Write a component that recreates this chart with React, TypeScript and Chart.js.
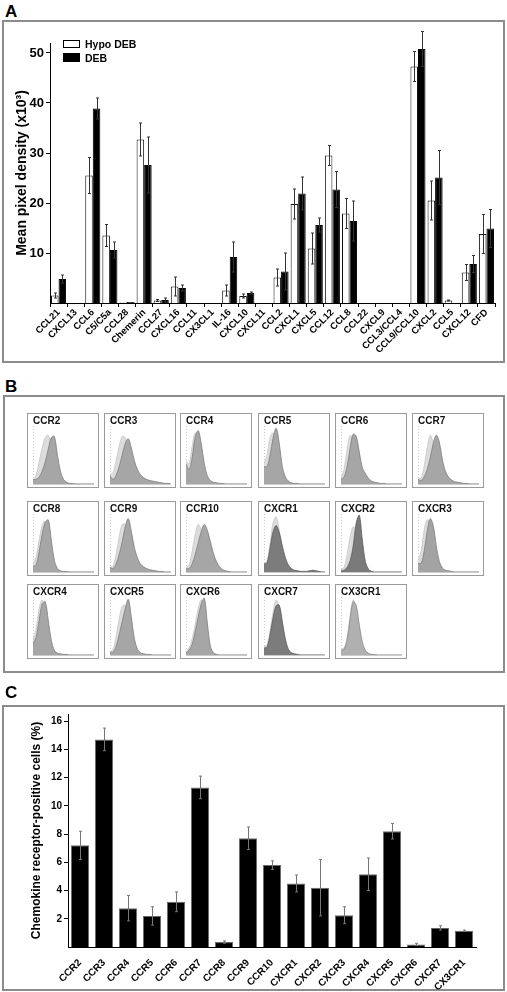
import React, { useEffect, useRef } from 'react';
import { Chart, registerables } from 'chart.js';

Chart.register(...registerables);

const FONT = '"Liberation Sans", Arial, Helvetica, sans-serif';
Chart.defaults.font.family = FONT;
Chart.defaults.color = '#000';

// ---------- Panel A data ----------
const chemokines = ['CCL21', 'CXCL13', 'CCL6', 'C5/C5a', 'CCL28', 'Chemerin', 'CCL27', 'CXCL16', 'CCL11', 'CX3CL1', 'IL-16', 'CXCL10', 'CXCL11', 'CCL2', 'CXCL1', 'CXCL5', 'CCL12', 'CCL8', 'CCL22', 'CXCL9', 'CCL3/CCL4', 'CCL9/CCL10', 'CXCL2', 'CCL5', 'CXCL12', 'CFD'];
const hypoDEB = [1.5, 0, 25.5, 13.5, 0.1, 32.7, 0.5, 3.3, 0, 0, 2.5, 1.4, 0, 5.1, 19.8, 10.9, 29.5, 17.9, 0, 0, 0, 47.3, 20.5, 0.5, 6.1, 13.8];
const hypoDEBErr = [0.5, 0, 3.6, 2.2, 0, 3.3, 0.2, 1.9, 0, 0, 1.1, 0.4, 0, 1.7, 3.0, 3.1, 2.0, 3.0, 0, 0, 0, 3.0, 3.9, 0.1, 1.6, 3.9];
const debValues = [4.8, 0, 38.9, 10.6, 0.2, 27.6, 0.6, 3.0, 0, 0, 9.2, 2.0, 0, 6.3, 21.9, 15.6, 22.7, 16.4, 0, 0, 0, 50.8, 25.1, 0, 7.8, 14.9];
const debErr = [0.8, 0, 2.1, 1.6, 0, 5.6, 0.4, 0.6, 0, 0, 3.0, 0.2, 0, 3.7, 3.3, 1.4, 3.6, 4.0, 0, 0, 0, 3.5, 5.4, 0, 1.7, 3.8];
const densityTicks = [10, 20, 30, 40, 50];

// ---------- Panel B data ----------
const receptorNames = ['CCR2', 'CCR3', 'CCR4', 'CCR5', 'CCR6', 'CCR7', 'CCR8', 'CCR9', 'CCR10', 'CXCR1', 'CXCR2', 'CXCR3', 'CXCR4', 'CXCR5', 'CXCR6', 'CXCR7', 'CX3CR1'];
const histBins = ['0', '1', '2', '3', '4', '5', '6', '7', '8', '9', '10', '11', '12', '13', '14', '15', '16', '17', '18', '19', '20'];
const controlHist = [
  [5, 15, 38, 62, 80, 84, 60, 28, 10, 4, 2, 1, 0, 0, 0, 0, 0, 0, 0, 0, 0],
  [15, 20, 40, 65, 82, 80, 55, 30, 16, 9, 5, 3, 2, 1, 1, 0, 0, 0, 0, 0, 0],
  [40, 35, 65, 88, 78, 45, 18, 7, 3, 2, 1, 0, 0, 0, 0, 0, 0, 0, 0, 0, 0],
  [35, 50, 80, 88, 65, 30, 10, 4, 2, 1, 0, 0, 0, 0, 0, 0, 0, 0, 0, 0, 0],
  [10, 25, 60, 84, 75, 45, 18, 8, 3, 1, 0, 0, 0, 0, 0, 0, 0, 0, 0, 0, 0],
  [10, 10, 30, 62, 84, 70, 38, 16, 7, 4, 2, 1, 1, 0, 0, 0, 0, 0, 0, 0, 0],
  [15, 25, 55, 80, 88, 60, 25, 8, 3, 1, 0, 0, 0, 0, 0, 0, 0, 0, 0, 0, 0],
  [8, 10, 30, 60, 82, 82, 55, 28, 14, 7, 4, 2, 1, 1, 0, 0, 0, 0, 0, 0, 0],
  [8, 12, 35, 65, 82, 72, 45, 22, 10, 5, 2, 1, 0, 0, 0, 0, 0, 0, 0, 0, 0],
  [15, 20, 50, 85, 95, 72, 40, 18, 8, 4, 2, 1, 1, 1, 1, 2, 3, 2, 1, 0, 0],
  [4, 8, 30, 60, 78, 70, 45, 20, 8, 3, 1, 0, 0, 0, 0, 0, 0, 0, 0, 0, 0],
  [20, 35, 72, 90, 84, 55, 25, 10, 4, 2, 1, 0, 0, 0, 0, 0, 0, 0, 0, 0, 0],
  [25, 45, 80, 95, 72, 35, 12, 5, 2, 1, 1, 0, 0, 0, 0, 0, 0, 0, 0, 0, 0],
  [6, 10, 32, 62, 84, 86, 55, 25, 10, 4, 2, 1, 0, 0, 0, 0, 0, 0, 0, 0, 0],
  [6, 12, 28, 52, 80, 95, 70, 30, 8, 2, 1, 0, 0, 0, 0, 0, 0, 0, 0, 0, 0],
  [14, 18, 42, 75, 95, 80, 50, 22, 8, 3, 1, 0, 0, 0, 0, 0, 0, 0, 0, 0, 0],
  [10, 12, 30, 70, 95, 80, 45, 18, 6, 2, 1, 0, 0, 0, 0, 0, 0, 0, 0, 0, 0],
];
const stainedHist = [
  [8, 8, 12, 22, 38, 60, 80, 82, 50, 22, 8, 3, 1, 1, 0, 0, 0, 0, 0, 0, 0],
  [14, 8, 15, 30, 50, 70, 78, 62, 40, 25, 16, 11, 8, 6, 5, 4, 3, 2, 1, 1, 0],
  [35, 25, 45, 80, 92, 70, 35, 14, 6, 3, 2, 1, 1, 0, 0, 0, 0, 0, 0, 0, 0],
  [30, 30, 50, 80, 96, 70, 30, 12, 5, 2, 1, 1, 0, 0, 0, 0, 0, 0, 0, 0, 0],
  [8, 12, 30, 62, 86, 82, 55, 28, 18, 10, 5, 3, 2, 1, 1, 0, 0, 0, 0, 0, 0],
  [8, 6, 12, 25, 45, 70, 84, 72, 42, 22, 12, 7, 4, 3, 2, 1, 1, 0, 0, 0, 0],
  [10, 12, 35, 65, 85, 90, 55, 20, 6, 2, 1, 1, 0, 0, 0, 0, 0, 0, 0, 0, 0],
  [8, 6, 14, 30, 52, 78, 92, 70, 42, 24, 14, 9, 6, 4, 3, 2, 1, 1, 0, 0, 0],
  [6, 6, 14, 30, 50, 70, 82, 72, 52, 32, 18, 9, 4, 2, 1, 0, 0, 0, 0, 0, 0],
  [14, 16, 42, 70, 80, 68, 45, 25, 12, 6, 3, 2, 1, 1, 1, 2, 3, 2, 1, 0, 0],
  [2, 3, 8, 20, 45, 85, 98, 55, 18, 5, 1, 0, 0, 0, 0, 0, 0, 0, 0, 0, 0],
  [15, 15, 35, 70, 92, 80, 45, 18, 7, 3, 2, 1, 0, 0, 0, 0, 0, 0, 0, 0, 0],
  [20, 30, 60, 88, 92, 60, 25, 8, 3, 2, 1, 1, 0, 0, 0, 0, 0, 0, 0, 0, 0],
  [5, 5, 15, 35, 58, 80, 96, 65, 28, 10, 4, 2, 1, 1, 0, 0, 0, 0, 0, 0, 0],
  [4, 8, 18, 40, 65, 88, 98, 55, 15, 4, 1, 0, 0, 0, 0, 0, 0, 0, 0, 0, 0],
  [12, 14, 36, 65, 85, 86, 58, 28, 10, 4, 2, 1, 0, 0, 0, 0, 0, 0, 0, 0, 0],
  [8, 10, 26, 62, 92, 85, 52, 22, 8, 3, 1, 1, 0, 0, 0, 0, 0, 0, 0, 0, 0],
];

// ---------- Panel C data ----------
const receptors = ['CCR2', 'CCR3', 'CCR4', 'CCR5', 'CCR6', 'CCR7', 'CCR8', 'CCR9', 'CCR10', 'CXCR1', 'CXCR2', 'CXCR3', 'CXCR4', 'CXCR5', 'CXCR6', 'CXCR7', 'CX3CR1'];
const positivePct = [7.2, 14.7, 2.75, 2.2, 3.2, 11.3, 0.35, 7.7, 5.8, 4.5, 4.2, 2.25, 5.15, 8.2, 0.18, 1.35, 1.15];
const positiveErr = [1.0, 0.8, 0.9, 0.65, 0.7, 0.8, 0.08, 0.8, 0.3, 0.6, 2.0, 0.6, 1.15, 0.55, 0.08, 0.15, 0.05];
const percentTicks = [2, 4, 6, 8, 10, 12, 14, 16];

// ---------- styles (kept apart from data) ----------
const stainedFill = ['#a6a6a6', '#a6a6a6', '#a6a6a6', '#a6a6a6', '#a6a6a6', '#a6a6a6', '#a6a6a6', '#a6a6a6', '#a6a6a6', '#7c7c7c', '#7a7a7a', '#a3a3a3', '#a6a6a6', '#a6a6a6', '#a6a6a6', '#7c7c7c', '#b0b0b0'];
const stainedEdge = ['#7d7d7d', '#7d7d7d', '#7d7d7d', '#7d7d7d', '#7d7d7d', '#7d7d7d', '#7d7d7d', '#7d7d7d', '#7d7d7d', '#5e5e5e', '#5e5e5e', '#7d7d7d', '#7d7d7d', '#7d7d7d', '#7d7d7d', '#5e5e5e', '#8a8a8a'];
const colX = [27, 104, 180, 258, 335, 412];
const rowY = [413, 501, 584];

function errorBars(errs: (number[] | null)[], color: string, cap: number) {
  return {
    id: 'errorBars',
    afterDatasetsDraw(chart: any) {
      const ctx = chart.ctx;
      const ys = chart.scales.y;
      ctx.save();
      ctx.strokeStyle = color;
      ctx.lineWidth = 1;
      chart.data.datasets.forEach((ds: any, di: number) => {
        const e = errs[di];
        if (!e) return;
        chart.getDatasetMeta(di).data.forEach((el: any, i: number) => {
          const v = ds.data[i] as number;
          const d = e[i];
          if (!d) return;
          const x = Math.round(el.x) + 0.5;
          const t = ys.getPixelForValue(v + d);
          const b = ys.getPixelForValue(Math.max(0, v - d));
          ctx.beginPath();
          ctx.moveTo(x, t);
          ctx.lineTo(x, b);
          ctx.moveTo(x - cap, t);
          ctx.lineTo(x + cap, t);
          ctx.moveTo(x - cap, b);
          ctx.lineTo(x + cap, b);
          ctx.stroke();
        });
      });
      ctx.restore();
    },
  };
}

const miniAxes = {
  id: 'miniAxes',
  beforeDatasetsDraw(chart: any) {
    const { ctx, chartArea: a } = chart;
    ctx.save();
    ctx.strokeStyle = '#b4b4b4';
    ctx.lineWidth = 0.7;
    ctx.setLineDash([1, 2]);
    ctx.beginPath();
    ctx.moveTo(a.left + 0.5, a.top);
    ctx.lineTo(a.left + 0.5, a.bottom);
    ctx.stroke();
    ctx.setLineDash([]);
    ctx.beginPath();
    ctx.moveTo(a.left, a.bottom + 0.5);
    ctx.lineTo(a.right, a.bottom + 0.5);
    ctx.stroke();
    ctx.restore();
  },
};

function PanelA() {
  const ref = useRef<HTMLCanvasElement>(null);
  useEffect(() => {
    const chart = new Chart(ref.current as HTMLCanvasElement, {
      type: 'bar',
      data: {
        labels: chemokines,
        datasets: [
          { label: 'Hypo DEB', data: hypoDEB, backgroundColor: '#ffffff', borderColor: '#111', borderWidth: 1, barPercentage: 1, categoryPercentage: 0.88 },
          { label: 'DEB', data: debValues, backgroundColor: '#000000', borderColor: '#000', borderWidth: 1, barPercentage: 1, categoryPercentage: 0.88 },
        ],
      },
      options: {
        responsive: false,
        animation: false,
        events: [],
        layout: { padding: { left: 0, top: 23, right: 10, bottom: 0 } },
        plugins: { legend: { display: false }, tooltip: { enabled: false } },
        scales: {
          x: {
            afterFit: (s: any) => { s.height = 60; },
            grid: { display: true, drawOnChartArea: false, drawTicks: true, tickLength: 4, color: '#000', offset: true },
            border: { display: true, color: '#000', width: 1 },
            ticks: { autoSkip: false, minRotation: 45, maxRotation: 45, padding: 0, color: '#000', font: { size: 9.5, weight: 'bold', family: FONT } },
          },
          y: {
            min: 0,
            max: 52,
            afterFit: (s: any) => { s.width = 48; },
            afterBuildTicks: (s: any) => { s.ticks = densityTicks.map((v) => ({ value: v })); },
            grid: { display: true, drawOnChartArea: false, drawTicks: true, tickLength: 4, color: '#000' },
            border: { display: true, color: '#000', width: 1 },
            ticks: { padding: 2, color: '#000', font: { size: 13, weight: 'bold', family: FONT } },
            title: { display: true, text: 'Mean pixel density (x10³)', color: '#000', padding: { top: 12, bottom: 0 }, font: { size: 14, weight: 'bold', family: FONT } },
          },
        },
      } as any,
      plugins: [errorBars([hypoDEBErr, debErr], '#333', 1.5)],
    });
    return () => chart.destroy();
  }, []);
  return <canvas ref={ref} width={503} height={343} style={{ position: 'absolute', left: 2, top: 20 }} />;
}

function PanelC() {
  const ref = useRef<HTMLCanvasElement>(null);
  useEffect(() => {
    const chart = new Chart(ref.current as HTMLCanvasElement, {
      type: 'bar',
      data: {
        labels: receptors,
        datasets: [
          { label: 'positive', data: positivePct, backgroundColor: '#000', borderColor: '#6a6a6a', borderWidth: 1, barPercentage: 0.76, categoryPercentage: 1 },
        ],
      },
      options: {
        responsive: false,
        animation: false,
        events: [],
        layout: { padding: { left: 0, top: 9, right: 29, bottom: 0 } },
        plugins: { legend: { display: false }, tooltip: { enabled: false } },
        scales: {
          x: {
            afterFit: (s: any) => { s.height = 44; },
            grid: { display: false },
            border: { display: true, color: '#000', width: 1 },
            ticks: { autoSkip: false, minRotation: 45, maxRotation: 45, padding: 2, color: '#000', font: { size: 10, weight: 'bold', family: FONT } },
          },
          y: {
            min: 0,
            max: 16.5,
            afterFit: (s: any) => { s.width = 66; },
            afterBuildTicks: (s: any) => { s.ticks = percentTicks.map((v) => ({ value: v })); },
            grid: { display: true, drawOnChartArea: false, drawTicks: true, tickLength: 4, color: '#000' },
            border: { display: true, color: '#000', width: 1 },
            ticks: { padding: 2, color: '#000', font: { size: 10, weight: 'bold', family: FONT } },
            title: { display: true, text: 'Chemokine receptor-positive cells (%)', color: '#000', padding: { top: 27, bottom: 0 }, font: { size: 12, weight: 'bold', family: FONT } },
          },
        },
      } as any,
      plugins: [errorBars([positiveErr], '#777', 1.5)],
    });
    return () => chart.destroy();
  }, []);
  return <canvas ref={ref} width={503} height={286} style={{ position: 'absolute', left: 2, top: 705 }} />;
}

function MiniHist({ idx }: { idx: number }) {
  const ref = useRef<HTMLCanvasElement>(null);
  useEffect(() => {
    const chart = new Chart(ref.current as HTMLCanvasElement, {
      type: 'line',
      data: {
        labels: histBins,
        datasets: [
          { label: 'stained', data: stainedHist[idx], fill: 'origin', backgroundColor: stainedFill[idx], borderColor: stainedEdge[idx], borderWidth: 0.8, pointRadius: 0, tension: 0.35, order: 1 },
          { label: 'control', data: controlHist[idx], fill: 'origin', backgroundColor: '#dcdcdc', borderColor: '#c6c6c6', borderWidth: 0.8, pointRadius: 0, tension: 0.35, order: 2 },
        ],
      },
      options: {
        responsive: false,
        animation: false,
        events: [],
        layout: { padding: { left: 5, right: 4, top: 12, bottom: 3 } },
        plugins: { legend: { display: false }, tooltip: { enabled: false } },
        scales: { x: { display: false }, y: { display: false, min: 0, max: 100 } },
      } as any,
      plugins: [miniAxes],
    });
    return () => chart.destroy();
  }, [idx]);
  const left = colX[idx % 6];
  const top = rowY[Math.floor(idx / 6)];
  return (
    <div style={{ position: 'absolute', left, top, width: 72, height: 75, border: '1px solid #9a9a9a', boxSizing: 'border-box', background: '#fff' }}>
      <canvas ref={ref} width={70} height={73} style={{ position: 'absolute', left: 0, top: 0 }} />
      <div style={{ position: 'absolute', left: 5, top: 2, fontSize: 10, lineHeight: '10px', fontWeight: 'bold', color: '#111', whiteSpace: 'nowrap' }}>{receptorNames[idx]}</div>
    </div>
  );
}

const panelLabel = (top: number): React.CSSProperties => ({ position: 'absolute', left: 5, top, fontSize: 17, lineHeight: '17px', fontWeight: 'bold', color: '#000' });
const panelBox = (left: number, top: number, width: number, height: number): React.CSSProperties => ({ position: 'absolute', left, top, width, height, border: '2px solid #8c8c8c', boxSizing: 'border-box' });

export default function App() {
  return (
    <div style={{ position: 'absolute', left: 0, top: 0, width: 507, height: 992, background: '#fff', fontFamily: FONT, overflow: 'hidden' }}>
      <div style={panelLabel(3)}>A</div>
      <div style={panelBox(2, 20, 503, 343)} />
      <PanelA />
      <div style={{ position: 'absolute', left: 63, top: 40, width: 17, height: 8, border: '1px solid #000', boxSizing: 'border-box', background: '#fff' }} />
      <div style={{ position: 'absolute', left: 63, top: 53, width: 17, height: 9, background: '#000' }} />
      <div style={{ position: 'absolute', left: 85, top: 39, fontSize: 10.5, lineHeight: '10.5px', fontWeight: 'bold', color: '#000', whiteSpace: 'nowrap' }}>Hypo DEB</div>
      <div style={{ position: 'absolute', left: 85, top: 52.5, fontSize: 10.5, lineHeight: '10.5px', fontWeight: 'bold', color: '#000', whiteSpace: 'nowrap' }}>DEB</div>

      <div style={panelLabel(378)}>B</div>
      <div style={panelBox(3, 395, 502, 278)} />
      {receptorNames.map((n, i) => (
        <MiniHist key={n} idx={i} />
      ))}

      <div style={panelLabel(684)}>C</div>
      <div style={panelBox(2, 705, 503, 286)} />
      <PanelC />
    </div>
  );
}
